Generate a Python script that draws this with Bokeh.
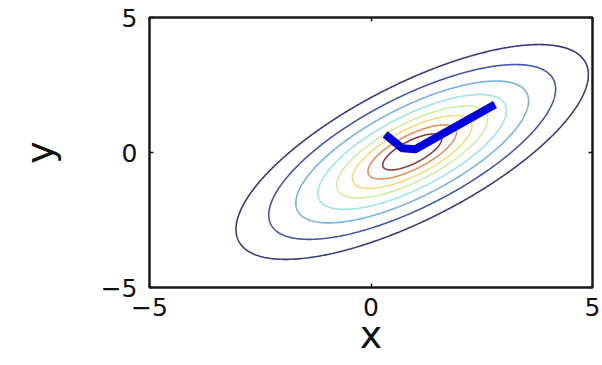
import numpy as np
from bokeh.plotting import figure
from bokeh.models import LinearAxis, FixedTicker, CustomJSTickFormatter
from bokeh.embed import file_html
from bokeh.resources import INLINE

# Gaussian whose density contours are drawn
mean_xy = [0.93, 0.02]
std_xy = [1.85, 1.85]
corr_xy = 0.72

# contour levels given as Mahalanobis radii (outermost first), with jet-like colours
level_radii = [2.15, 1.75, 1.42, 1.15, 0.92, 0.73, 0.54, 0.36]
level_colors = ["#3b3b78", "#4656a8", "#78b4e0", "#9ee6e0",
                "#cdeea0", "#f2dc7c", "#e0905c", "#8a3c3c"]

# optimisation path
path_x = [2.80, 1.00, 0.70, 0.32]
path_y = [1.78, 0.12, 0.16, 0.67]

ticks = [-5, 0, 5]

FONT = "DejaVu Sans"

p = figure(frame_width=443, frame_height=270,
           x_range=(-5, 5), y_range=(-5, 5),
           min_border_left=149, min_border_right=10,
           min_border_top=17, min_border_bottom=78,
           output_backend="svg", toolbar_location=None,
           background_fill_color="white", border_fill_color="white")
p.grid.visible = False
p.outline_line_color = "#1a1a1a"
p.outline_line_width = 2.5

# Mahalanobis distance on a grid
gx = np.linspace(-5, 5, 401)
gy = np.linspace(-5, 5, 401)
X, Y = np.meshgrid(gx, gy)
dx = (X - mean_xy[0]) / std_xy[0]
dy = (Y - mean_xy[1]) / std_xy[1]
q = (dx * dx - 2 * corr_xy * dx * dy + dy * dy) / (1 - corr_xy ** 2)
R = np.sqrt(q)

levels = sorted(level_radii)
colors = [c for _, c in sorted(zip(level_radii, level_colors))]
p.contour(gx, gy, R, levels=levels, line_color=colors, line_width=1.6)

p.line(path_x, path_y, line_color="#0000dd", line_width=8, line_join="round")

minus_fmt = CustomJSTickFormatter(code='return tick < 0 ? "\\u2212" + (-tick) : "" + tick;')
blank_fmt = CustomJSTickFormatter(code='return "";')


def style_axis(ax, labelled):
    ax.ticker = FixedTicker(ticks=ticks)
    ax.axis_line_color = None
    ax.major_tick_in = 4
    ax.major_tick_out = 0
    ax.major_tick_line_color = "#1a1a1a"
    ax.major_tick_line_width = 1.5
    ax.minor_tick_line_color = None
    ax.major_label_text_font = FONT
    ax.major_label_text_font_size = "25px"
    ax.major_label_text_color = "#111111"
    ax.axis_label_text_font = FONT
    ax.axis_label_text_font_style = "normal"
    ax.axis_label_text_font_size = "38px"
    ax.axis_label_text_color = "#111111"
    ax.formatter = minus_fmt if labelled else blank_fmt


style_axis(p.xaxis[0], True)
style_axis(p.yaxis[0], True)
p.xaxis.axis_label = "x"
p.yaxis.axis_label = "y"
p.xaxis.major_label_standoff = 10
p.yaxis.major_label_standoff = 12
p.xaxis.axis_label_standoff = -6
p.yaxis.axis_label_standoff = 36

top_ax = LinearAxis()
right_ax = LinearAxis()
style_axis(top_ax, False)
style_axis(right_ax, False)
top_ax.major_label_standoff = 0
right_ax.major_label_standoff = 0
top_ax.major_label_text_font_size = "1px"
right_ax.major_label_text_font_size = "1px"
p.add_layout(top_ax, "above")
p.add_layout(right_ax, "right")

open("out.html", "w").write(file_html(p, INLINE))
